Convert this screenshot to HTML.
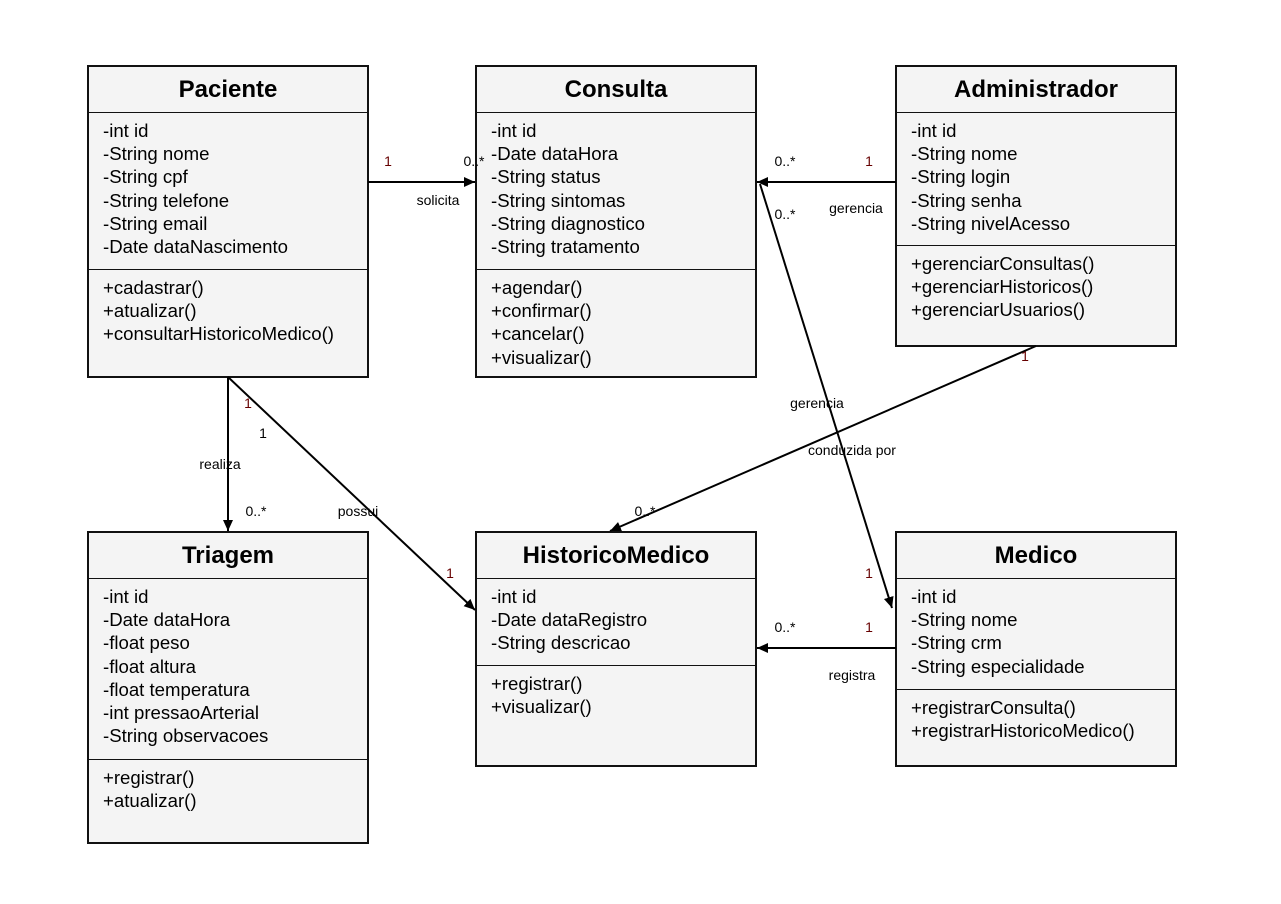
<!DOCTYPE html>
<html><head><meta charset="utf-8"><style>
html,body{margin:0;padding:0;background:#fff;}
body{width:1281px;height:904px;position:relative;overflow:hidden;font-family:"Liberation Sans",Arial,sans-serif;}
.box{position:absolute;background:#f4f4f4;border:2.5px solid #111;box-sizing:border-box;}
.title{height:46px;line-height:46px;text-align:center;font-weight:bold;font-size:24px;border-bottom:1.5px solid #111;box-sizing:border-box;}
.sec{padding:6px 0 6px 14px;font-size:18.6px;line-height:23.2px;border-bottom:1.5px solid #111;white-space:nowrap;}
.sec.last{border-bottom:none;}
svg{position:absolute;left:0;top:0;z-index:2;}
</style></head><body>
<svg width="1281" height="904" font-family="Liberation Sans, Arial, sans-serif" font-size="14">
<defs><marker id="a" markerWidth="12" markerHeight="12" refX="11" refY="6" orient="auto" markerUnits="userSpaceOnUse"><path d="M0,1 L11,6 L0,11 Z" fill="#000"/></marker></defs>
<g stroke="#000" stroke-width="2" fill="none">
<line x1="368" y1="182" x2="475" y2="182" marker-end="url(#a)"/>
<line x1="896" y1="182" x2="757" y2="182" marker-end="url(#a)"/>
<line x1="760" y1="184" x2="892" y2="608" marker-end="url(#a)"/>
<line x1="1036" y1="346" x2="610" y2="531" marker-end="url(#a)"/>
<line x1="228" y1="377" x2="228" y2="531" marker-end="url(#a)"/>
<line x1="228" y1="377" x2="475" y2="610" marker-end="url(#a)"/>
<line x1="896" y1="648" x2="757" y2="648" marker-end="url(#a)"/>
</g>
<g fill="#000" text-anchor="middle">
<text x="388" y="166" fill="#600">1</text><text x="474" y="166">0..*</text><text x="438" y="205">solicita</text>
<text x="785" y="166">0..*</text><text x="869" y="166" fill="#600">1</text><text x="856" y="213">gerencia</text>
<text x="785" y="219">0..*</text><text x="817" y="408">gerencia</text><text x="869" y="578" fill="#600">1</text>
<text x="1025" y="361" fill="#600">1</text><text x="852" y="455">conduzida por</text><text x="645" y="516">0..*</text>
<text x="248" y="408" fill="#600">1</text><text x="220" y="469">realiza</text><text x="256" y="516">0..*</text>
<text x="263" y="438">1</text><text x="358" y="516">possui</text><text x="450" y="578" fill="#600">1</text>
<text x="785" y="632">0..*</text><text x="869" y="632" fill="#600">1</text><text x="852" y="680">registra</text>
</g>
</svg>
<div class="box" style="left:87px;top:65px;width:282px;height:313px">
<div class="title">Paciente</div>
<div class="sec" style="height:144px">-int id<br>-String nome<br>-String cpf<br>-String telefone<br>-String email<br>-Date dataNascimento</div>
<div class="sec last">+cadastrar()<br>+atualizar()<br>+consultarHistoricoMedico()</div></div>
<div class="box" style="left:475px;top:65px;width:282px;height:313px">
<div class="title">Consulta</div>
<div class="sec" style="height:144px">-int id<br>-Date dataHora<br>-String status<br>-String sintomas<br>-String diagnostico<br>-String tratamento</div>
<div class="sec last">+agendar()<br>+confirmar()<br>+cancelar()<br>+visualizar()</div></div>
<div class="box" style="left:895px;top:65px;width:282px;height:282px">
<div class="title">Administrador</div>
<div class="sec" style="height:120px">-int id<br>-String nome<br>-String login<br>-String senha<br>-String nivelAcesso</div>
<div class="sec last">+gerenciarConsultas()<br>+gerenciarHistoricos()<br>+gerenciarUsuarios()</div></div>
<div class="box" style="left:87px;top:531px;width:282px;height:313px">
<div class="title">Triagem</div>
<div class="sec" style="height:168px">-int id<br>-Date dataHora<br>-float peso<br>-float altura<br>-float temperatura<br>-int pressaoArterial<br>-String observacoes</div>
<div class="sec last">+registrar()<br>+atualizar()</div></div>
<div class="box" style="left:475px;top:531px;width:282px;height:236px">
<div class="title">HistoricoMedico</div>
<div class="sec" style="height:74px">-int id<br>-Date dataRegistro<br>-String descricao</div>
<div class="sec last">+registrar()<br>+visualizar()</div></div>
<div class="box" style="left:895px;top:531px;width:282px;height:236px">
<div class="title">Medico</div>
<div class="sec" style="height:98px">-int id<br>-String nome<br>-String crm<br>-String especialidade</div>
<div class="sec last">+registrarConsulta()<br>+registrarHistoricoMedico()</div></div>
</body></html>
